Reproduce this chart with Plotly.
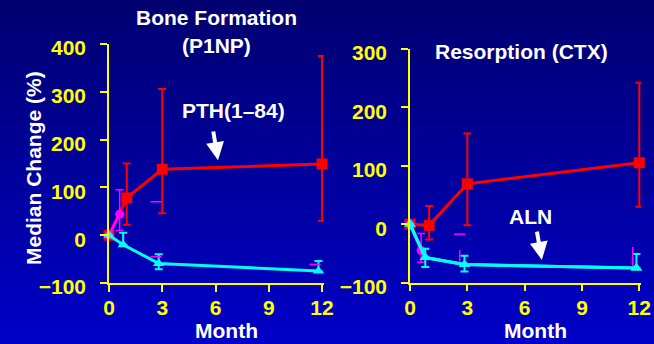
import plotly.graph_objects as go

# ---- Bone formation (P1NP), % median change ----
pth_x_l = [0, 1, 3, 12]
pth_y_l = [0, 78, 138, 149]
pth_hi_l = [0, 150, 306, 375]
pth_lo_l = [0, 22, 46, 30]

comb_x_l = [0, 0.6]
comb_y_l = [0, 44]
comb_hi_l = [0, 95]
comb_lo_l = [0, 10]
comb_cap_x_l = [2.65, 2.65, 11.6]
comb_cap_y_l = [70, -45, -61]

aln_x_l = [0, 0.8, 2.8, 11.8]
aln_y_l = [0, -20, -59, -75]
aln_hi_l = [0, 5, -40, -54]
aln_lo_l = [0, -20, -71, -75]

# ---- Resorption (CTX), % median change ----
pth_x_r = [0, 1, 3, 12]
pth_y_r = [0, -2, 69, 105]
pth_hi_r = [0, 31, 155, 242]
pth_lo_r = [0, -26, -2, 30]

comb_x_r = [0, 0.58]
comb_y_r = [0, -45]
comb_hi_r = [0, -16]
comb_lo_r = [0, -65]
comb_cap_x_r = [2.6]
comb_cap_y_r = [-17]
comb_seg_x_r = [2.6, 11.66]
comb_seg_top_r = [-44, -39]
comb_seg_bot_r = [-66, -73]

aln_x_r = [0, 0.8, 2.85, 11.85]
aln_y_r = [0, -57, -69, -75]
aln_hi_r = [0, -42, -54, -51]
aln_lo_r = [0, -73, -81, -75]

month_ticks = [0, 3, 6, 9, 12]
y_ticks_l = [-100, 0, 100, 200, 300, 400]
y_ticks_r = [-100, 0, 100, 200, 300]

RED = "#FF0000"
CYAN = "#00FFFF"
MAGENTA = "#FF00FF"
YELLOW = "#FFFF00"
FONT = "Arial, Liberation Sans, sans-serif"

W, H = 654, 344

# plot-area pixel boxes (left, right, bottom, top)
BOX_L = (109, 323.8, 283, 44)
BOX_R = (410, 641.2, 282.7, 48.7)
X_RANGE = [0, 12.1]
Y_RANGE_L = [-100, 400]
Y_RANGE_R = [-100, 300]


def errs(y, hi, lo):
    return dict(type="data", symmetric=False,
                array=[h - v for h, v in zip(hi, y)],
                arrayminus=[v - l for v, l in zip(y, lo)])


fig = go.Figure()


def add_panel(xa, ya, px, py, phi, plo, cx, cy, chi, clo, ax_, ay_, ahi, alo):
    fig.add_trace(go.Scatter(
        x=px, y=py, mode="lines+markers", xaxis=xa, yaxis=ya,
        line=dict(color=RED, width=3),
        marker=dict(symbol="square", size=11, color=RED),
        error_y=dict(**errs(py, phi, plo), color=RED, thickness=2, width=4),
        cliponaxis=False, showlegend=False))
    fig.add_trace(go.Scatter(
        x=cx, y=cy, mode="lines+markers", xaxis=xa, yaxis=ya,
        line=dict(color=MAGENTA, width=3),
        marker=dict(symbol="circle", size=9, color=MAGENTA),
        error_y=dict(**errs(cy, chi, clo), color=MAGENTA, thickness=1.5, width=4),
        cliponaxis=False, showlegend=False))
    fig.add_trace(go.Scatter(
        x=ax_, y=ay_, mode="lines+markers", xaxis=xa, yaxis=ya,
        line=dict(color=CYAN, width=3),
        marker=dict(symbol="triangle-up", size=10, color=CYAN),
        error_y=dict(**errs(ay_, ahi, alo), color=CYAN, thickness=2, width=4),
        cliponaxis=False, showlegend=False))


add_panel("x", "y", pth_x_l, pth_y_l, pth_hi_l, pth_lo_l,
          comb_x_l, comb_y_l, comb_hi_l, comb_lo_l,
          aln_x_l, aln_y_l, aln_hi_l, aln_lo_l)
add_panel("x2", "y2", pth_x_r, pth_y_r, pth_hi_r, pth_lo_r,
          comb_x_r, comb_y_r, comb_hi_r, comb_lo_r,
          aln_x_r, aln_y_r, aln_hi_r, aln_lo_r)

# stray combination-arm error caps
fig.add_trace(go.Scatter(
    x=comb_cap_x_l, y=comb_cap_y_l, mode="markers", xaxis="x", yaxis="y",
    marker=dict(symbol="line-ew", size=8, line=dict(color=MAGENTA, width=1.5)),
    cliponaxis=False, showlegend=False))
fig.add_trace(go.Scatter(
    x=comb_cap_x_r, y=comb_cap_y_r, mode="markers", xaxis="x2", yaxis="y2",
    marker=dict(symbol="line-ew", size=8, line=dict(color=MAGENTA, width=1.5)),
    cliponaxis=False, showlegend=False))
for sx, st, sb in zip(comb_seg_x_r, comb_seg_top_r, comb_seg_bot_r):
    fig.add_trace(go.Scatter(
        x=[sx, sx], y=[st, sb], mode="lines", xaxis="x2", yaxis="y2",
        line=dict(color=MAGENTA, width=1.5), showlegend=False))
# redraw cyan on top of the magenta segments
fig.add_trace(go.Scatter(
    x=aln_x_r, y=aln_y_r, mode="lines+markers", xaxis="x2", yaxis="y2",
    line=dict(color=CYAN, width=3),
    marker=dict(symbol="triangle-up", size=10, color=CYAN),
    cliponaxis=False, showlegend=False))

tick_font = dict(family=FONT, size=21, color=YELLOW, weight="bold")
axis_common = dict(
    showgrid=False, zeroline=False, showline=True, linecolor=YELLOW,
    linewidth=1.5, ticks="outside", ticklen=7, tickwidth=1.5,
    tickcolor=YELLOW, automargin=False, tickfont=tick_font,
)


def xdom(box):
    return [box[0] / W, box[1] / W]


def ydom(box):
    return [1 - box[2] / H, 1 - box[3] / H]


fig.update_layout(
    template="none",
    width=W, height=H, margin=dict(l=0, r=0, t=0, b=0, pad=0),
    paper_bgcolor="#0000A0", plot_bgcolor="rgba(0,0,0,0)",
    xaxis=dict(domain=xdom(BOX_L), range=X_RANGE, tickvals=month_ticks,
               anchor="y", ticklabelstandoff=-2, **axis_common),
    yaxis=dict(domain=ydom(BOX_L), range=Y_RANGE_L, tickvals=y_ticks_l,
               anchor="x", ticklabelstandoff=10, ticklabelshift=4,
               **axis_common),
    xaxis2=dict(domain=xdom(BOX_R), range=X_RANGE, tickvals=month_ticks,
                anchor="y2", ticklabelstandoff=-2, **axis_common),
    yaxis2=dict(domain=ydom(BOX_R), range=Y_RANGE_R, tickvals=y_ticks_r,
                anchor="x2", ticklabelstandoff=10, ticklabelshift=4,
                **axis_common),
)

# vertical blue gradient background
n_bands = 60
top_rgb = (0, 0, 112)
bot_rgb = (0, 0, 200)
for i in range(n_bands):
    t = (i + 0.5) / n_bands
    c = tuple(round(a + (b - a) * t) for a, b in zip(top_rgb, bot_rgb))
    fig.add_shape(type="rect", xref="paper", yref="paper", layer="below",
                  x0=0, x1=1, y0=1 - (i + 1) / n_bands - 0.002,
                  y1=1 - i / n_bands,
                  fillcolor="rgb(%d,%d,%d)" % c, line=dict(width=0))

white_bold = dict(family=FONT, size=21, color="white", weight="bold")


def paper_text(txt, px, py, angle=0):
    fig.add_annotation(text=txt, x=px / W, y=1 - py / H, xref="paper",
                       yref="paper", showarrow=False, font=white_bold,
                       xanchor="center", yanchor="middle", textangle=angle)


paper_text("Bone Formation", 216.7, 18)
paper_text("(P1NP)", 216.7, 45)
paper_text("Resorption (CTX)", 521.7, 51)
paper_text("Median Change (%)", 33, 168, angle=-90)
paper_text("Month", 226, 330)
paper_text("Month", 535, 330)

# PTH(1-84) label with arrow
fig.add_annotation(text="PTH(1\u201384)", x=7.0, y=261, xref="x", yref="y",
                   showarrow=False, font=white_bold)
fig.add_annotation(text="", x=6.14, y=157, ax=5.86, ay=220, xref="x",
                   yref="y", axref="x", ayref="y", showarrow=True,
                   arrowhead=2, arrowsize=0.9, arrowwidth=4,
                   arrowcolor="white", standoff=0, startstandoff=0)

# ALN label with arrow
fig.add_annotation(text="ALN", x=6.3, y=14, xref="x2", yref="y2",
                   showarrow=False, font=white_bold)
fig.add_annotation(text="", x=6.9, y=-61, ax=6.63, ay=-10, xref="x2",
                   yref="y2", axref="x2", ayref="y2", showarrow=True,
                   arrowhead=2, arrowsize=0.9, arrowwidth=4,
                   arrowcolor="white", standoff=0, startstandoff=0)

fig.write_html("out.html")
